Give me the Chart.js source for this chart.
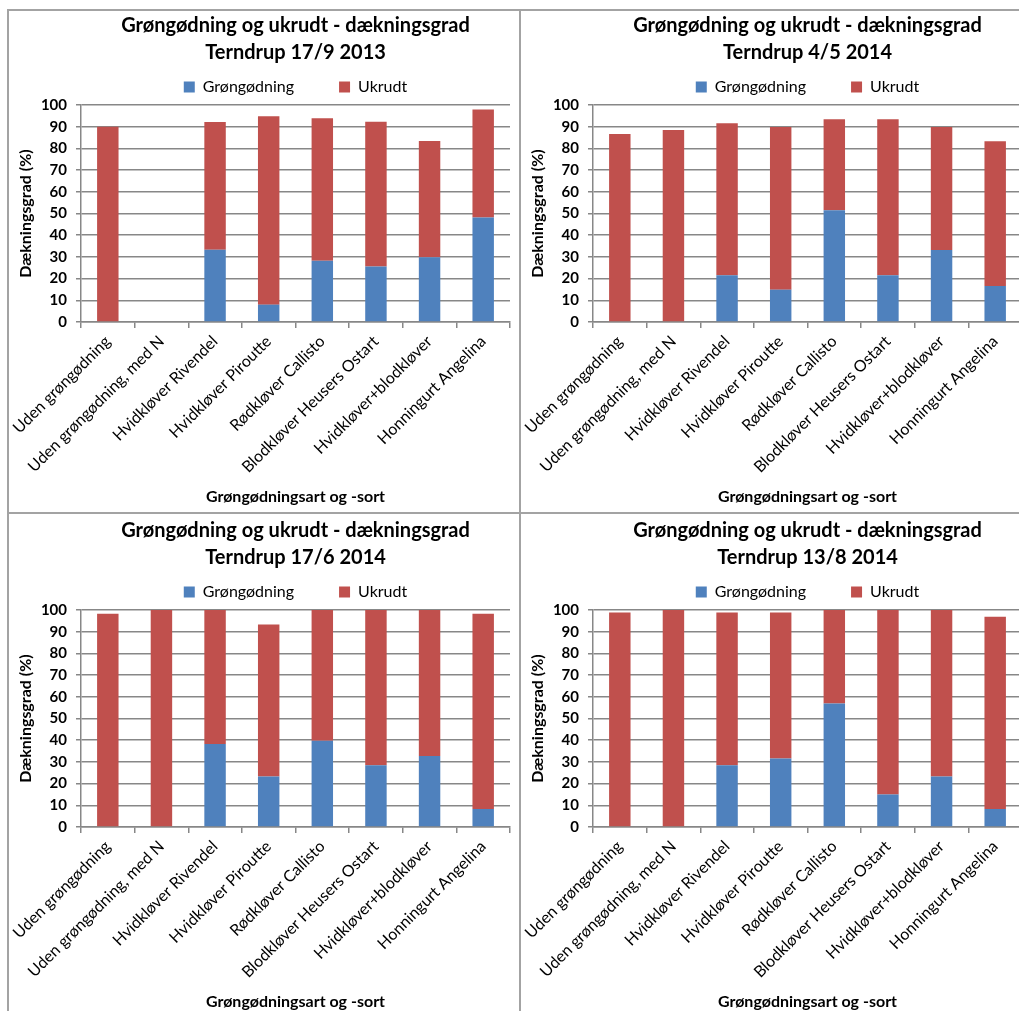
<!DOCTYPE html>
<html>
<head>
<meta charset="utf-8">
<script src="https://cdn.jsdelivr.net/npm/chart.js@4.4.0/dist/chart.umd.min.js"></script>
<style>
  body { margin: 0; background: #fff; overflow: hidden; }
  #ramme { position: relative; width: 1019px; height: 1011px; overflow: hidden; }
  .linje { position: absolute; background: #a3a3a3; }
  canvas { position: absolute; }
</style>
</head>
<body>
<div id="ramme">
  <div class="linje" style="left:7px;top:10px;width:2px;height:1001px"></div>
  <div class="linje" style="left:519px;top:10px;width:2px;height:1001px"></div>
  <div class="linje" style="left:7px;top:9px;width:1012px;height:2px"></div>
  <div class="linje" style="left:7px;top:512px;width:1012px;height:2px"></div>
  <canvas id="graf0" width="509" height="500" style="left:10px;top:12px"></canvas>
  <canvas id="graf1" width="509" height="500" style="left:522px;top:12px"></canvas>
  <canvas id="graf2" width="509" height="500" style="left:10px;top:517px"></canvas>
  <canvas id="graf3" width="509" height="500" style="left:522px;top:517px"></canvas>
</div>
<script>
var kategorier = [
  'Uden grøngødning',
  'Uden grøngødning, med N',
  'Hvidkløver Rivendel',
  'Hvidkløver Piroutte',
  'Rødkløver Callisto',
  'Blodkløver Heusers Ostart',
  'Hvidkløver+blodkløver',
  'Honningurt Angelina'
];

var datoer = ['Terndrup 17/9 2013', 'Terndrup 4/5 2014', 'Terndrup 17/6 2014', 'Terndrup 13/8 2014'];

// dækningsgrad i %, grøngødning nederst og ukrudt ovenpå
var gron2013sep = [0, 0, 33.3, 8.0, 28.2, 25.6, 29.8, 48.2];
var ukrudt2013sep = [90.0, 0, 58.9, 86.8, 65.7, 66.7, 53.6, 49.7];

var gron2014maj = [0, 0, 21.5, 14.9, 51.5, 21.5, 33.2, 16.6];
var ukrudt2014maj = [86.6, 88.5, 70.1, 75.0, 41.9, 71.9, 56.7, 66.7];

var gron2014jun = [0, 0, 38.2, 23.3, 39.7, 28.4, 32.7, 8.3];
var ukrudt2014jun = [98.3, 100, 61.8, 70.0, 60.3, 71.6, 67.3, 90.0];

var gron2014aug = [0, 0, 28.4, 31.6, 56.9, 15.0, 23.3, 8.3];
var ukrudt2014aug = [98.8, 100, 70.4, 67.2, 43.1, 85.0, 76.7, 88.6];

var yTicks = [0, 10, 20, 30, 40, 50, 60, 70, 80, 90, 100];

var skrift = 'Lato, "Open Sans", sans-serif';
var gitter = '#878787';

function lavGraf(ctx, dato, gron, ukrudt) {

  return new Chart(ctx, {
    type: 'bar',
    data: {
      labels: kategorier,
      datasets: [{
        label: 'Grøngødning',
        data: gron,
        backgroundColor: '#4F81BD',
        borderWidth: 0,
        barPercentage: 0.4,
        categoryPercentage: 1
      }, {
        label: 'Ukrudt',
        data: ukrudt,
        backgroundColor: '#C0504D',
        borderWidth: 0,
        barPercentage: 0.4,
        categoryPercentage: 1
      }]
    },
    options: {
      responsive: false,
      animation: false,
      layout: { padding: { left: 0, right: 9, top: 0, bottom: 2 } },
      plugins: {
        title: {
          display: true,
          fullSize: false,
          text: ['Grøngødning og ukrudt - dækningsgrad', dato],
          color: '#000',
          font: { family: skrift, size: 20, weight: 'bold', lineHeight: 1.35 },
          padding: { top: 0, bottom: -32 }
        },
        legend: {
          display: true,
          fullSize: false,
          maxHeight: 71,
          labels: {
            boxWidth: 11,
            boxHeight: 11,
            padding: 45,
            color: '#000',
            font: { family: skrift, size: 16 }
          }
        },
        tooltip: { enabled: false }
      },
      scales: {
        x: {
          stacked: true,
          grid: { offset: true, drawOnChartArea: false, drawTicks: true, tickLength: 6, color: gitter, lineWidth: 1.5 },
          border: { color: gitter, width: 1.5 },
          ticks: {
            autoSkip: false,
            minRotation: 45,
            maxRotation: 45,
            padding: 4,
            color: '#000',
            font: { family: skrift, size: 16 }
          },
          title: {
            display: true,
            text: 'Grøngødningsart og -sort',
            color: '#000',
            font: { family: skrift, size: 16, weight: 'bold' },
            padding: { top: 4, bottom: 4 }
          },
          afterFit: function (s) {
            s.height = 188;
            s.paddingLeft = 0;
            s.paddingRight = 0;
          }
        },
        y: {
          stacked: true,
          min: 0,
          max: 100,
          afterBuildTicks: function (s) {
            s.ticks = yTicks.map(v => ({ value: v }));
          },
          grid: { color: gitter, lineWidth: 1.5, drawTicks: true, tickLength: 5 },
          border: { color: gitter, width: 1.5 },
          ticks: {
            padding: 9,
            color: '#000',
            font: { family: skrift, size: 15, weight: 'bold' }
          },
          title: {
            display: true,
            text: 'Dækningsgrad (%)',
            color: '#000',
            font: { family: skrift, size: 16, weight: 'bold' },
            padding: { top: 6, bottom: 0 }
          },
          afterFit: function (s) {
            s.width = 71;
          }
        }
      }
    }
  });
}

var grafer = [
  lavGraf(document.getElementById('graf0'), datoer[0], gron2013sep, ukrudt2013sep),
  lavGraf(document.getElementById('graf1'), datoer[1], gron2014maj, ukrudt2014maj),
  lavGraf(document.getElementById('graf2'), datoer[2], gron2014jun, ukrudt2014jun),
  lavGraf(document.getElementById('graf3'), datoer[3], gron2014aug, ukrudt2014aug)
];
</script>
</body>
</html>
